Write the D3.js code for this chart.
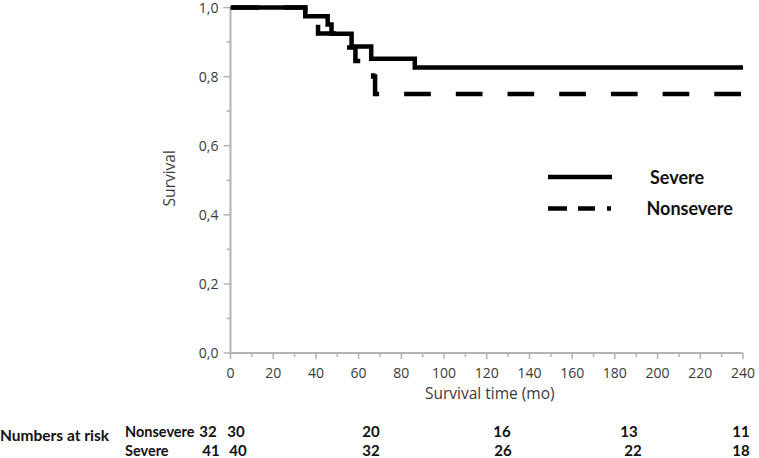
<!DOCTYPE html>
<html>
<head>
<meta charset="utf-8">
<script src="https://cdn.jsdelivr.net/npm/d3@7"></script>
<style>
  html, body { margin: 0; padding: 0; background: #fff; }
  svg { display: block; }
</style>
</head>
<body>
<svg id="chart" width="759" height="458"></svg>
<script>
// ---- data ----
const severeTimes = [0, 35, 45.5, 47.3, 56.7, 65.9, 86.3, 240];
const severeSurv  = [1.0, 0.975, 0.951, 0.924, 0.887, 0.852, 0.826, 0.826];
const nonsevereTimes = [0, 35, 41, 54.5, 58.5, 66.8, 67.7, 240];
const nonsevereSurv  = [1.0, 0.969, 0.925, 0.884, 0.845, 0.80, 0.75, 0.75];
const xTicks = [0, 20, 40, 60, 80, 100, 120, 140, 160, 180, 200, 220, 240];
const yTicks = [0, 0.2, 0.4, 0.6, 0.8, 1.0];
const yTickLabels = ["0,0", "0,2", "0,4", "0,6", "0,8", "1,0"];
const riskGroups = ["Nonsevere", "Severe"];
const riskNonsevere = [32, 30, 20, 16, 13, 11];
const riskSevere = [41, 40, 32, 26, 22, 18];
const legendLabels = ["Severe", "Nonsevere"];

// ---- layout ----
const svg = d3.select("#chart");
const x = d3.scaleLinear().domain([0, 240]).range([230.5, 743]);
const y = d3.scaleLinear().domain([0, 1]).range([353, 7.5]);
const axisColor = "#b3b3b3";
const textColor = "#3a3a3a";
const tickFont = "'Open Sans', sans-serif";

// y axis line
svg.append("line").attr("x1", x(0)).attr("x2", x(0)).attr("y1", y(0)).attr("y2", y(1))
  .attr("stroke", axisColor).attr("stroke-width", 2);
// x axis line
svg.append("line").attr("x1", x(0) - 1).attr("x2", x(240)).attr("y1", y(0)).attr("y2", y(0))
  .attr("stroke", axisColor).attr("stroke-width", 2);

// y ticks (major & minor)
const yMinor = d3.range(0, 11).map(d => d / 10);
svg.append("g").selectAll("line").data(yMinor).join("line")
  .attr("x1", (d, i) => x(0) - (i % 2 === 0 ? 7 : 4)).attr("x2", x(0))
  .attr("y1", d => y(d)).attr("y2", d => y(d))
  .attr("stroke", axisColor).attr("stroke-width", 1.5);
svg.append("g").selectAll("text").data(yTicks).join("text")
  .attr("x", x(0) - 12).attr("y", d => y(d) + 5)
  .attr("text-anchor", "end")
  .attr("font-family", tickFont).attr("font-size", 14).attr("fill", textColor)
  .text((d, i) => yTickLabels[i]);

// x ticks
const xMinor = d3.range(0, 241, 10);
svg.append("g").selectAll("line").data(xMinor).join("line")
  .attr("x1", d => x(d)).attr("x2", d => x(d))
  .attr("y1", y(0)).attr("y2", d => y(0) + (d % 20 === 0 ? 6 : 4))
  .attr("stroke", axisColor).attr("stroke-width", 1.5);
svg.append("g").selectAll("text").data(xTicks).join("text")
  .attr("x", d => x(d)).attr("y", y(0) + 25)
  .attr("text-anchor", "middle")
  .attr("font-family", tickFont).attr("font-size", 14).attr("fill", textColor)
  .text(d => d);

// axis titles
svg.append("text").attr("x", (x(0) + x(240)) / 2 + 3).attr("y", 399)
  .attr("text-anchor", "middle").attr("font-family", tickFont).attr("font-size", 15.5)
  .attr("fill", textColor).text("Survival time (mo)");
svg.append("text").attr("transform", `translate(175, ${y(0.5) - 2}) rotate(-90)`)
  .attr("text-anchor", "middle").attr("font-family", tickFont).attr("font-size", 15.5)
  .attr("fill", textColor).text("Survival");

// ---- curves ----
const line = d3.line().x(d => x(d[0])).y(d => y(d[1])).curve(d3.curveStepAfter);
const severeData = severeTimes.map((t, i) => [t, severeSurv[i]]);
const nonsevereData = nonsevereTimes.map((t, i) => [t, nonsevereSurv[i]]);

const dashOn = 26.7, dashOff = 25, period = dashOn + dashOff;
const nsPath = svg.append("path").datum(nonsevereData).attr("d", line)
  .attr("fill", "none").attr("stroke", "#000").attr("stroke-width", 4.5)
  .attr("stroke-linejoin", "miter").attr("stroke-linecap", "butt")
  .attr("stroke-dasharray", `${dashOn},${dashOff}`);
// align dash phase so a dash begins at ~81 months on the final plateau
const total = nsPath.node().getTotalLength();
const dashStart = total - (x(240) - x(81.3));
nsPath.attr("stroke-dashoffset", (period - (dashStart % period)) % period);

svg.append("path").datum(severeData).attr("d", line)
  .attr("fill", "none").attr("stroke", "#000").attr("stroke-width", 4.5)
  .attr("stroke-linejoin", "miter").attr("stroke-linecap", "butt");

// ---- legend ----
const legendFont = "Lato, sans-serif";
const lg = svg.append("g");
lg.append("line").attr("x1", 548).attr("x2", 612).attr("y1", 177).attr("y2", 177)
  .attr("stroke", "#000").attr("stroke-width", 4.5);
lg.append("line").attr("x1", 548).attr("x2", 611).attr("y1", 208.5).attr("y2", 208.5)
  .attr("stroke", "#000").attr("stroke-width", 4.5)
  .attr("stroke-dasharray", "19,11,17,12,4");
lg.selectAll("text").data(legendLabels).join("text")
  .attr("x", (d, i) => i === 0 ? 650 : 646.5)
  .attr("y", (d, i) => i === 0 ? 183.5 : 215)
  .attr("font-family", legendFont).attr("font-weight", "bold").attr("font-size", 18)
  .attr("fill", "#111").text(d => d);

// ---- numbers at risk ----
const riskFont = "Lato, sans-serif";
const rowY = d3.scaleOrdinal().domain(riskGroups).range([437, 456]);
const colX = {
  Nonsevere: d3.scaleOrdinal().domain(d3.range(6)).range([208, 236, 371, 502, 629, 741]),
  Severe: d3.scaleOrdinal().domain(d3.range(6)).range([211, 238, 371, 503, 633, 741])
};
svg.append("text").attr("x", 0).attr("y", 441)
  .attr("font-family", riskFont).attr("font-weight", "bold").attr("font-size", 15.5)
  .attr("fill", "#111").text("Numbers at risk");
svg.append("g").selectAll("text").data(riskGroups).join("text")
  .attr("x", 125).attr("y", d => rowY(d))
  .attr("font-family", riskFont).attr("font-weight", "bold").attr("font-size", 14.5)
  .attr("fill", "#111").text(d => d);
[[riskNonsevere, "Nonsevere"], [riskSevere, "Severe"]].forEach(([vals, g]) => {
  svg.append("g").selectAll("text").data(vals).join("text")
    .attr("x", (d, i) => colX[g](i)).attr("y", rowY(g))
    .attr("text-anchor", "middle")
    .attr("font-family", riskFont).attr("font-weight", "bold").attr("font-size", 15)
    .attr("fill", "#111").text(d => d);
});
</script>
</body>
</html>
